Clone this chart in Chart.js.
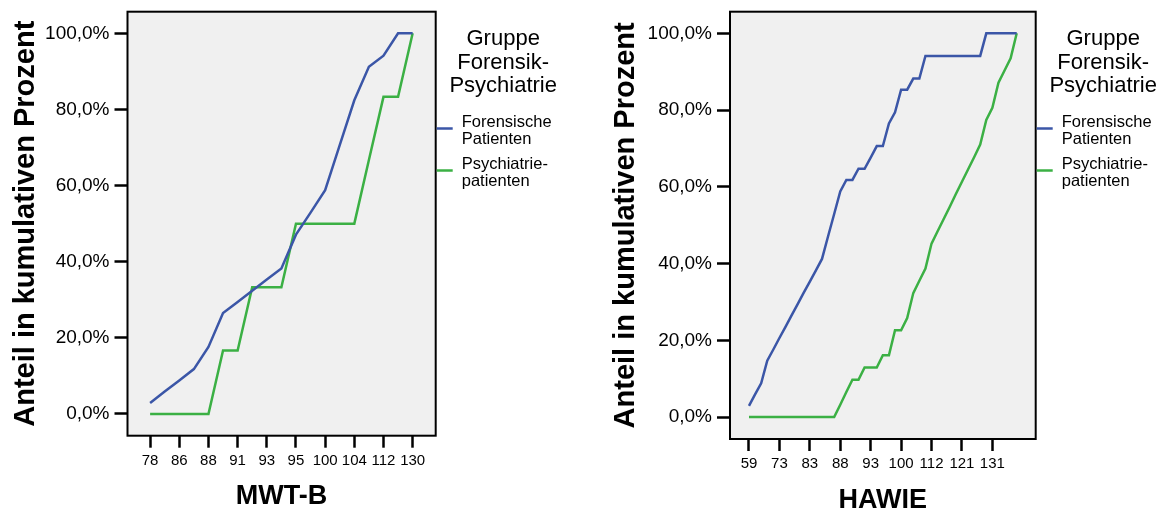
<!DOCTYPE html>
<html>
<head>
<meta charset="utf-8">
<script src="https://cdn.jsdelivr.net/npm/chart.js@4.4.1/dist/chart.umd.min.js"></script>
<style>
  html, body { margin: 0; padding: 0; background: #fff; }
  #wrap { position: relative; width: 1166px; height: 512px; }
  .box { position: absolute; top: 0; width: 583px; height: 512px; }
</style>
</head>
<body>
<div id="wrap">
  <div class="box" style="left:0"><canvas id="c1" width="583" height="512"></canvas></div>
  <div class="box" style="left:583px"><canvas id="c2" width="583" height="512"></canvas></div>
</div>
<script>
// MWT-B: tick labels shown on every 2nd category
const mwtLabels = ['78', '86', '88', '91', '93', '95', '100', '104', '112', '130'];
const mwtForensisch = [2.9, 5.9, 8.8, 11.8, 17.6, 26.5, 29.4, 32.4, 35.3, 38.2, 47.1, 52.9, 58.8, 70.6, 82.4, 91.2, 94.1, 100, 100];
const mwtPsychiatrie = [0, 0, 0, 0, 0, 16.7, 16.7, 33.3, 33.3, 33.3, 50, 50, 50, 50, 50, 66.7, 83.3, 83.3, 100];

// HAWIE: tick labels shown on every 5th category
const hawieLabels = ['59', '73', '83', '88', '93', '100', '112', '121', '131'];
const hawieForensisch = [2.9, 5.9, 8.8, 14.7, 17.6, 20.6, 23.5, 26.5, 29.4, 32.4, 35.3, 38.2, 41.2, 47.1, 52.9,
  58.8, 61.8, 61.8, 64.7, 64.7, 67.6, 70.6, 70.6, 76.5, 79.4, 85.3, 85.3, 88.2, 88.2, 94.1,
  94.1, 94.1, 94.1, 94.1, 94.1, 94.1, 94.1, 94.1, 94.1, 100, 100, 100, 100, 100, 100];
const hawiePsychiatrie = [0, 0, 0, 0, 0, 0, 0, 0, 0, 0, 0, 0, 0, 0, 0,
  3.2, 6.5, 9.7, 9.7, 12.9, 12.9, 12.9, 16.1, 16.1, 22.6, 22.6, 25.8, 32.3, 35.5, 38.7,
  45.2, 48.4, 51.6, 54.8, 58.1, 61.3, 64.5, 67.7, 71.0, 77.4, 80.6, 87.1, 90.3, 93.5, 100];

const yTicks = [0, 20, 40, 60, 80, 100];
const seriesNames = ['Forensische Patienten', 'Psychiatriepatienten'];
const legendTitle = ['Gruppe', 'Forensik-', 'Psychiatrie'];
const legendItems = [['Forensische', 'Patienten'], ['Psychiatrie-', 'patienten']];

const FONT = "'Liberation Sans', Arial, sans-serif";
const BLUE = '#3b56a7';
const GREEN = '#3bb044';

const framePlugin = {
  id: 'frame',
  beforeDraw(chart) {
    const a = chart.chartArea, ctx = chart.ctx;
    ctx.save();
    ctx.fillStyle = '#f0f0f0';
    ctx.fillRect(a.left, a.top, a.right - a.left, a.bottom - a.top);
    ctx.restore();
  },
  afterDatasetsDraw(chart) {
    const a = chart.chartArea, ctx = chart.ctx;
    ctx.save();
    ctx.strokeStyle = '#000';
    ctx.lineWidth = 2;
    ctx.strokeRect(a.left, a.top, a.right - a.left, a.bottom - a.top);
    ctx.restore();
  }
};

const groupLegend = {
  id: 'groupLegend',
  afterDraw(chart) {
    const ctx = chart.ctx, r = chart.chartArea.right;
    const colors = chart.data.datasets.map(d => d.borderColor);
    ctx.save();
    ctx.fillStyle = '#000';
    ctx.textBaseline = 'alphabetic';
    ctx.textAlign = 'center';
    ctx.font = '22px ' + FONT;
    legendTitle.forEach((t, i) => ctx.fillText(t, r + 67.5, 45 + i * 23.5));
    ctx.textAlign = 'left';
    ctx.font = '16.5px ' + FONT;
    legendItems.forEach((lines, i) => {
      const y0 = i === 0 ? 126.5 : 168.5;
      ctx.strokeStyle = colors[i];
      ctx.lineWidth = 2.5;
      ctx.beginPath();
      ctx.moveTo(r + 1, y0 + 2);
      ctx.lineTo(r + 17, y0 + 2);
      ctx.stroke();
      lines.forEach((t, j) => ctx.fillText(t, r + 26, y0 + j * 17.5));
    });
    ctx.restore();
  }
};

function makeChart(id, o) {
  const toPts = arr => arr.map((v, i) => ({ x: i, y: v }));
  return new Chart(document.getElementById(id), {
    type: 'line',
    data: {
      datasets: [
        { label: seriesNames[0], data: toPts(o.blue), borderColor: BLUE, borderWidth: 2.5, pointRadius: 0, tension: 0 },
        { label: seriesNames[1], data: toPts(o.green), borderColor: GREEN, borderWidth: 2.5, pointRadius: 0, tension: 0 }
      ]
    },
    options: {
      responsive: false,
      animation: false,
      devicePixelRatio: 1,
      layout: { padding: { left: 0, top: 11.7, right: o.padRight, bottom: 0 } },
      plugins: { legend: { display: false }, tooltip: { enabled: false } },
      scales: {
        x: {
          type: 'linear',
          min: o.xMin,
          max: o.xMax,
          afterBuildTicks: s => { s.ticks = o.labels.map((l, i) => ({ value: i * o.step })); },
          afterFit: s => { s.height = o.xHeight; },
          ticks: {
            autoSkip: false, maxRotation: 0, padding: 4, color: '#000',
            font: { family: FONT, size: 15 },
            callback: v => o.labels[Math.round(v / o.step)]
          },
          grid: { drawOnChartArea: false, tickLength: 12, tickWidth: 2.5, tickColor: '#000' },
          border: { display: false },
          title: {
            display: true, text: o.xTitle, color: '#000',
            font: { family: FONT, size: 27, weight: 'bold' },
            padding: { top: 0, bottom: o.xTitlePad }
          }
        },
        y: {
          type: 'linear',
          min: o.yMin,
          max: o.yMax,
          afterBuildTicks: s => { s.ticks = yTicks.map(v => ({ value: v })); },
          afterFit: s => { s.width = o.yWidth; },
          ticks: {
            padding: 5, color: '#000',
            font: { family: FONT, size: 19, lineHeight: 0.6 },
            callback: v => v.toFixed(1).replace('.', ',') + '%'
          },
          grid: { drawOnChartArea: false, tickLength: 13, tickWidth: 2.5, tickColor: '#000' },
          border: { display: false },
          title: {
            display: true, text: 'Anteil in kumulativen Prozent', color: '#000',
            font: { family: FONT, size: 29, weight: 'bold' },
            padding: { top: o.yTitlePad, bottom: 0 }
          }
        }
      }
    },
    plugins: [framePlugin, groupLegend]
  });
}

makeChart('c1', {
  labels: mwtLabels, step: 2, blue: mwtForensisch, green: mwtPsychiatrie, xTitle: 'MWT-B',
  xMin: -1.55, xMax: 19.58, yMin: -5.7, yMax: 105.67,
  yWidth: 127.5, xHeight: 76.3, padRight: 147.3, yTitlePad: 8.6, xTitlePad: -1
});
makeChart('c2', {
  labels: hawieLabels, step: 5, blue: hawieForensisch, green: hawiePsychiatrie, xTitle: 'HAWIE',
  xMin: -3.12, xMax: 47.12, yMin: -5.73, yMax: 105.63,
  yWidth: 147, xHeight: 73, padRight: 130.3, yTitlePad: 26, xTitlePad: -5
});
</script>
</body>
</html>
